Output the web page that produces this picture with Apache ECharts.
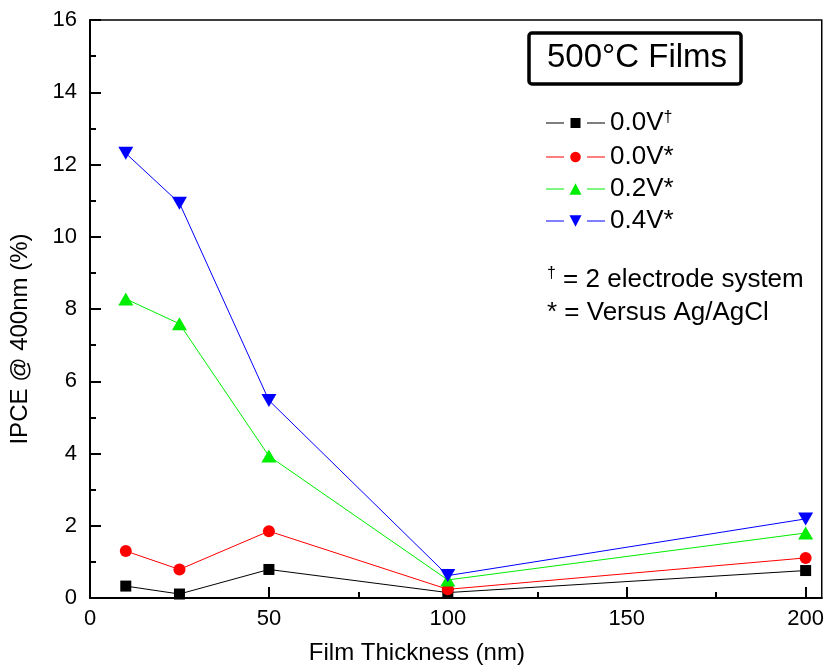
<!DOCTYPE html>
<html>
<head>
<meta charset="utf-8">
<script src="https://cdn.jsdelivr.net/npm/echarts@6/dist/echarts.min.js"></script>
<style>
  html, body { margin: 0; padding: 0; background: #fff; }
  #chart { width: 827px; height: 670px; }
</style>
</head>
<body>
<div id="chart"></div>
<script>
// ---- Data ----
const thickness = [10, 25, 50, 100, 200];           // Film Thickness (nm)
const seriesNames = ['0.0V†', '0.0V*', '0.2V*', '0.4V*'];
const ipce_00V_2e   = [0.33, 0.11, 0.79, 0.15, 0.76];
const ipce_00V_ag   = [1.30, 0.79, 1.85, 0.24, 1.11];
const ipce_02V_ag   = [8.28, 7.59, 3.93, 0.50, 1.80];
const ipce_04V_ag   = [12.31, 10.93, 5.47, 0.62, 2.19];
const xTicks = [0, 50, 100, 150, 200];
const yTicks = [0, 2, 4, 6, 8, 10, 12, 14, 16];
const boxTitle = '500°C Films';
const note1 = '† = 2 electrode system';
const note2 = '* = Versus Ag/AgCl';

const pairs = (ys) => thickness.map((x, i) => [x, ys[i]]);

const FONT = 'Liberation Sans, Arial, sans-serif';
const colors = ['#000000', '#ff0000', '#00ee00', '#0000ff'];
const symbols = ['rect', 'circle', 'triangle', 'triangle'];
const symbolSizes = [11, 12, [15, 13], [15, 13]];
const symbolRotates = [0, 0, 0, 180];
const allValues = [ipce_00V_2e, ipce_00V_ag, ipce_02V_ag, ipce_04V_ag];

// legend icons: line - gap - marker - gap - line  (in a 59 x 13 box)
const seg = 'M0 6 L18 6 L18 7 L0 7 Z M41 6 L59 6 L59 7 L41 7 Z ';
const legendIcons = [
  'path://' + seg + 'M24.5 1.5 L34.5 1.5 L34.5 11.5 L24.5 11.5 Z',
  'path://' + seg + 'M24.2 6.5 A5.3 5.3 0 1 0 34.8 6.5 A5.3 5.3 0 1 0 24.2 6.5 Z',
  'path://' + seg + 'M23.5 12.2 L29.5 0.8 L35.5 12.2 Z',
  'path://' + seg + 'M23.5 0.8 L35.5 0.8 L29.5 12.2 Z'
];

const series = seriesNames.map((name, k) => ({
  name: name,
  type: 'line',
  data: pairs(allValues[k]),
  symbol: symbols[k],
  symbolSize: symbolSizes[k],
  symbolRotate: symbolRotates[k],
  showAllSymbol: true,
  lineStyle: { color: colors[k], width: 1 },
  itemStyle: { color: colors[k] },
  emphasis: { disabled: true },
  animation: false,
  z: 2 + k
}));

const chart = echarts.init(document.getElementById('chart'), null, { renderer: 'canvas' });

chart.setOption({
  backgroundColor: '#ffffff',
  animation: false,
  grid: {
    left: 90, right: 3, top: 20, bottom: 72,
    show: true, borderColor: '#000', borderWidth: 1.5, backgroundColor: 'transparent'
  },
  xAxis: {
    type: 'value',
    min: 0, max: 204.5, interval: 50,
    name: 'Film Thickness (nm)',
    nameLocation: 'middle',
    nameGap: 43,
    nameTextStyle: { fontFamily: FONT, fontSize: 24, color: '#000', padding: [0, 78, 0, 0] },
    axisLine: { show: true, onZero: false, lineStyle: { color: '#000', width: 2 } },
    axisTick: { show: true, inside: true, length: 11, lineStyle: { color: '#000', width: 2 },
      customValues: xTicks },
    minorTick: { show: true, splitNumber: 2, length: 6, lineStyle: { color: '#000', width: 2 } },
    axisLabel: {
      fontFamily: FONT, fontSize: 22, color: '#000', margin: 10,
      customValues: xTicks,
      formatter: (v) => String(v)
    },
    splitLine: { show: false }
  },
  yAxis: {
    type: 'value',
    min: 0, max: 16, interval: 2,
    name: 'IPCE @ 400nm (%)',
    nameLocation: 'middle',
    nameGap: 58,
    nameTextStyle: { fontFamily: FONT, fontSize: 24, color: '#000', padding: [0, 60, 0, 0] },
    axisLine: { show: true, onZero: false, lineStyle: { color: '#000', width: 2 } },
    axisTick: { show: true, inside: true, length: 11, lineStyle: { color: '#000', width: 2 } },
    minorTick: { show: true, splitNumber: 2, length: 6, lineStyle: { color: '#000', width: 2 } },
    axisLabel: {
      fontFamily: FONT, fontSize: 22, color: '#000', margin: 13,
      customValues: yTicks,
      formatter: (v) => String(v)
    },
    splitLine: { show: false }
  },
  legend: {
    orient: 'vertical',
    left: 546, top: 110,
    padding: 0,
    itemWidth: 59, itemHeight: 13, itemGap: 6,
    symbolKeepAspect: true,
    selectedMode: false,
    data: seriesNames.map((n, k) => ({ name: n, icon: legendIcons[k] })),
    formatter: (name) => name.replace('†', '{sup|†}'),
    textStyle: {
      fontFamily: FONT, fontSize: 26, color: '#000', lineHeight: 26, padding: [0, 0, 0, 0],
      rich: {
        sup: { fontFamily: FONT, fontSize: 16, color: '#000', verticalAlign: 'top', lineHeight: 26, padding: [0, 0, 12, 0] }
      }
    }
  },
  graphic: [
    {
      type: 'rect',
      shape: { x: 529, y: 33, width: 212, height: 51, r: 3 },
      style: { fill: '#fff', stroke: '#000', lineWidth: 3.5 },
      z: 10
    },
    {
      type: 'text',
      x: 637, y: 58,
      style: {
        text: boxTitle, fontFamily: FONT, fontSize: 33, fill: '#000',
        align: 'center', verticalAlign: 'middle'
      },
      z: 11
    },
    {
      type: 'text',
      x: 547, y: 280,
      style: {
        text: '{sup|†}' + note1.slice(1),
        fontFamily: FONT, fontSize: 26, fill: '#000',
        align: 'left', verticalAlign: 'middle',
        rich: {
          sup: { fontFamily: FONT, fontSize: 16, fill: '#000', padding: [0, 0, 12, 0] }
        }
      },
      z: 11
    },
    {
      type: 'text',
      x: 547, y: 313,
      style: {
        text: note2, fontFamily: FONT, fontSize: 26, fill: '#000',
        align: 'left', verticalAlign: 'middle'
      },
      z: 11
    }
  ],
  series: series
});
</script>
</body>
</html>
